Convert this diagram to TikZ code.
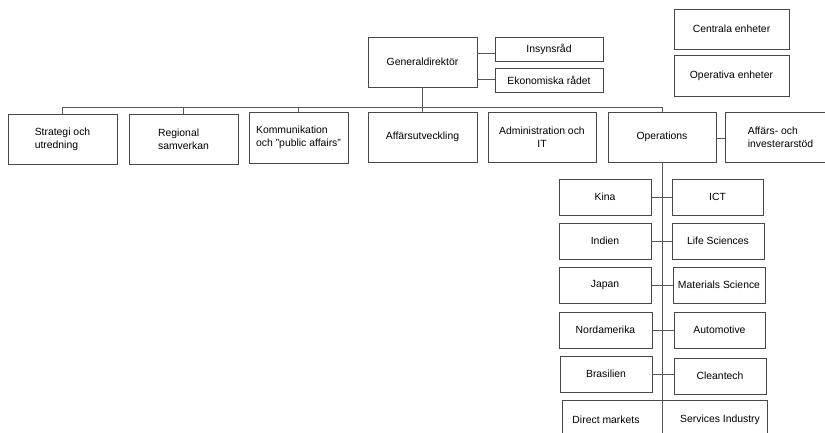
\documentclass[tikz,border=0pt]{standalone}
\usepackage{fontspec}
\setmainfont{Liberation Sans}
\newcommand{\bx}[6]{\node[box, minimum width={(#4-#2)*1pt}, minimum height={(#5-#3)*1pt}] (#1) at ({(#2+#4)/2},{(#3+#5)/2}) {#6};}
\begin{document}
\begin{tikzpicture}[x=1pt,y=-1pt,
  box/.style={draw=black!72, line width=0.9pt, inner sep=0pt, align=left, fill=white,
    font=\fontsize{10.4}{12.8}\selectfont},
  lab/.style={inner sep=0pt, font=\fontsize{10.4}{12.8}\selectfont},
  conn/.style={draw=black!65, line width=0.9pt}]
\useasboundingbox (0,0) rectangle (825,433);
\clip (0,0) rectangle (825,433);
% top right legend
\bx{cen}{674}{9}{789}{49}{Centrala enheter}
\bx{opv}{674}{55}{789}{96}{Operativa enheter}
% head
\bx{gd}{368}{37}{477}{87}{Generaldirektör}
\bx{ins}{495}{37}{603}{61}{Insynsråd}
\bx{eko}{495}{68}{603}{92}{Ekonomiska rådet}
% second row
\bx{str}{8}{114}{117}{164}{Strategi och\\utredning}
\bx{reg}{129}{114}{238}{164}{Regional\\samverkan}
\bx{kom}{249}{112}{348}{163}{Kommunikation\\och "public affairs"}
\bx{aff}{368}{112}{477}{162}{Affärsutveckling}
\bx{adm}{488}{112}{596}{162}{\hfil Administration och\hfil\\\hfil IT\hfil}
\bx{ops}{608}{112}{716}{162}{Operations}
\bx{inv}{725}{112}{836}{162}{Affärs- och\\investerarstöd}
% operations column
\coordinate (opsend) at (663,445);
\bx{dm}{562}{400}{767}{450}{}
\node[lab] (dmt) at (606,420) {Direct markets};
\node[lab] (sit) at (720,420) {Services Industry};
\draw[conn] (ops.south) -- (ops.south |- opsend);
\bx{kina}{559}{179}{651}{215}{Kina}
\bx{ict}{672}{179}{763}{215}{ICT}
\bx{ind}{559}{223}{651}{259}{Indien}
\bx{life}{672}{223}{764}{259}{Life Sciences}
\bx{jap}{559}{267}{651}{303}{Japan}
\bx{mat}{673}{267}{765}{303}{Materials Science}
\bx{nam}{559}{312}{652}{348}{Nordamerika}
\bx{aut}{674}{312}{765}{348}{Automotive}
\bx{bra}{560}{356}{652}{392}{Brasilien}
\bx{cle}{674}{358}{766}{394}{Cleantech}
% connectors
\draw[conn] (gd.east |- 0,53) -- (ins.west |- 0,53);
\draw[conn] (gd.east |- 0,79) -- (eko.west |- 0,79);
\draw[conn] (gd.south) -- (aff.north);
\draw[conn] (str.north) -- (str.north |- 0,107) -| (ops.north);
\draw[conn] (reg.north) -- (reg.north |- 0,107);
\draw[conn] (kom.north) -- (kom.north |- 0,107);
\draw[conn] (ops.east |- 0,138) -- (inv.west |- 0,138);
\draw[conn] (kina.east) -- (ict.west);
\draw[conn] (ind.east) -- (life.west);
\draw[conn] (jap.east) -- (mat.west);
\draw[conn] (nam.east) -- (aut.west);
\draw[conn] (bra.east) -- (bra.east -| cle.west);
\end{tikzpicture}
\end{document}
